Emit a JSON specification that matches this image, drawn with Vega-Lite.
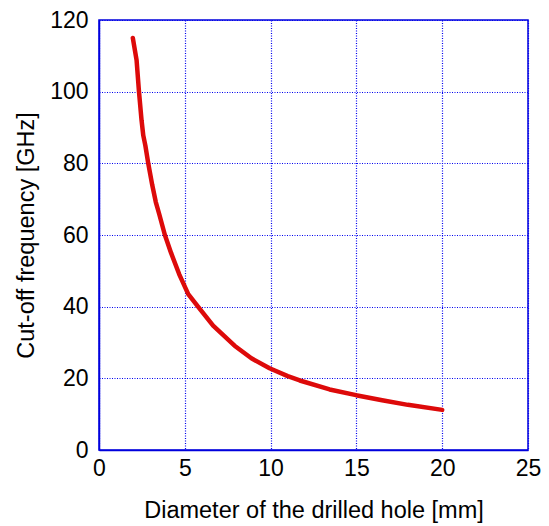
{
  "$schema": "https://vega.github.io/schema/vega-lite/v6.json",
  "width": 429,
  "height": 430,
  "autosize": {"type": "none"},
  "padding": {"left": 99, "top": 20, "right": 21, "bottom": 76},
  "background": "white",
  "data": {
    "values": [
      {"d": 1.97, "f": 115.0},
      {"d": 2.19, "f": 108.8},
      {"d": 2.33, "f": 100.0},
      {"d": 2.48, "f": 92.0},
      {"d": 2.58, "f": 87.8},
      {"d": 2.7, "f": 85.0},
      {"d": 2.87, "f": 80.0},
      {"d": 3.1, "f": 74.0},
      {"d": 3.31, "f": 69.2},
      {"d": 3.5, "f": 66.0},
      {"d": 3.84, "f": 60.0},
      {"d": 4.2, "f": 55.0},
      {"d": 4.67, "f": 49.1},
      {"d": 5.2, "f": 43.5},
      {"d": 5.77, "f": 40.0},
      {"d": 6.65, "f": 34.7},
      {"d": 7.9, "f": 29.1},
      {"d": 8.88, "f": 25.6},
      {"d": 9.94, "f": 22.8},
      {"d": 11.0, "f": 20.6},
      {"d": 11.7, "f": 19.4},
      {"d": 13.44, "f": 16.9},
      {"d": 14.98, "f": 15.3},
      {"d": 16.5, "f": 13.9},
      {"d": 18.0, "f": 12.6},
      {"d": 20.0, "f": 11.2}
    ]
  },
  "mark": {"type": "line", "color": "#dd0a0a", "strokeWidth": 4.5, "strokeCap": "round", "strokeJoin": "round"},
  "encoding": {
    "x": {
      "field": "d",
      "type": "quantitative",
      "scale": {"domain": [0, 25], "nice": false},
      "axis": {
        "title": "Diameter of the drilled hole [mm]",
        "values": [0, 5, 10, 15, 20, 25],
        "titlePadding": 18,
        "labelPadding": 7,
        "labelFlush": false
      }
    },
    "y": {
      "field": "f",
      "type": "quantitative",
      "scale": {"domain": [0, 120], "nice": false},
      "axis": {
        "title": "Cut-off frequency [GHz]",
        "values": [0, 20, 40, 60, 80, 100, 120],
        "titlePadding": 11,
        "labelPadding": 11,
        "labelFlush": false
      }
    }
  },
  "config": {
    "view": {"stroke": "#0000dd", "strokeWidth": 1.5},
    "axis": {
      "domainColor": "#0000dd",
      "domainWidth": 1.5,
      "gridColor": "#0000ee",
      "gridDash": [1, 1.5],
      "gridWidth": 1.2,
      "gridOpacity": 1,
      "ticks": false,
      "labelFont": "Liberation Sans",
      "labelFontSize": 23,
      "labelColor": "black",
      "labelFontWeight": "normal",
      "titleFont": "Liberation Sans",
      "titleFontSize": 23.5,
      "titleFontWeight": "normal",
      "titleColor": "black"
    }
  }
}
